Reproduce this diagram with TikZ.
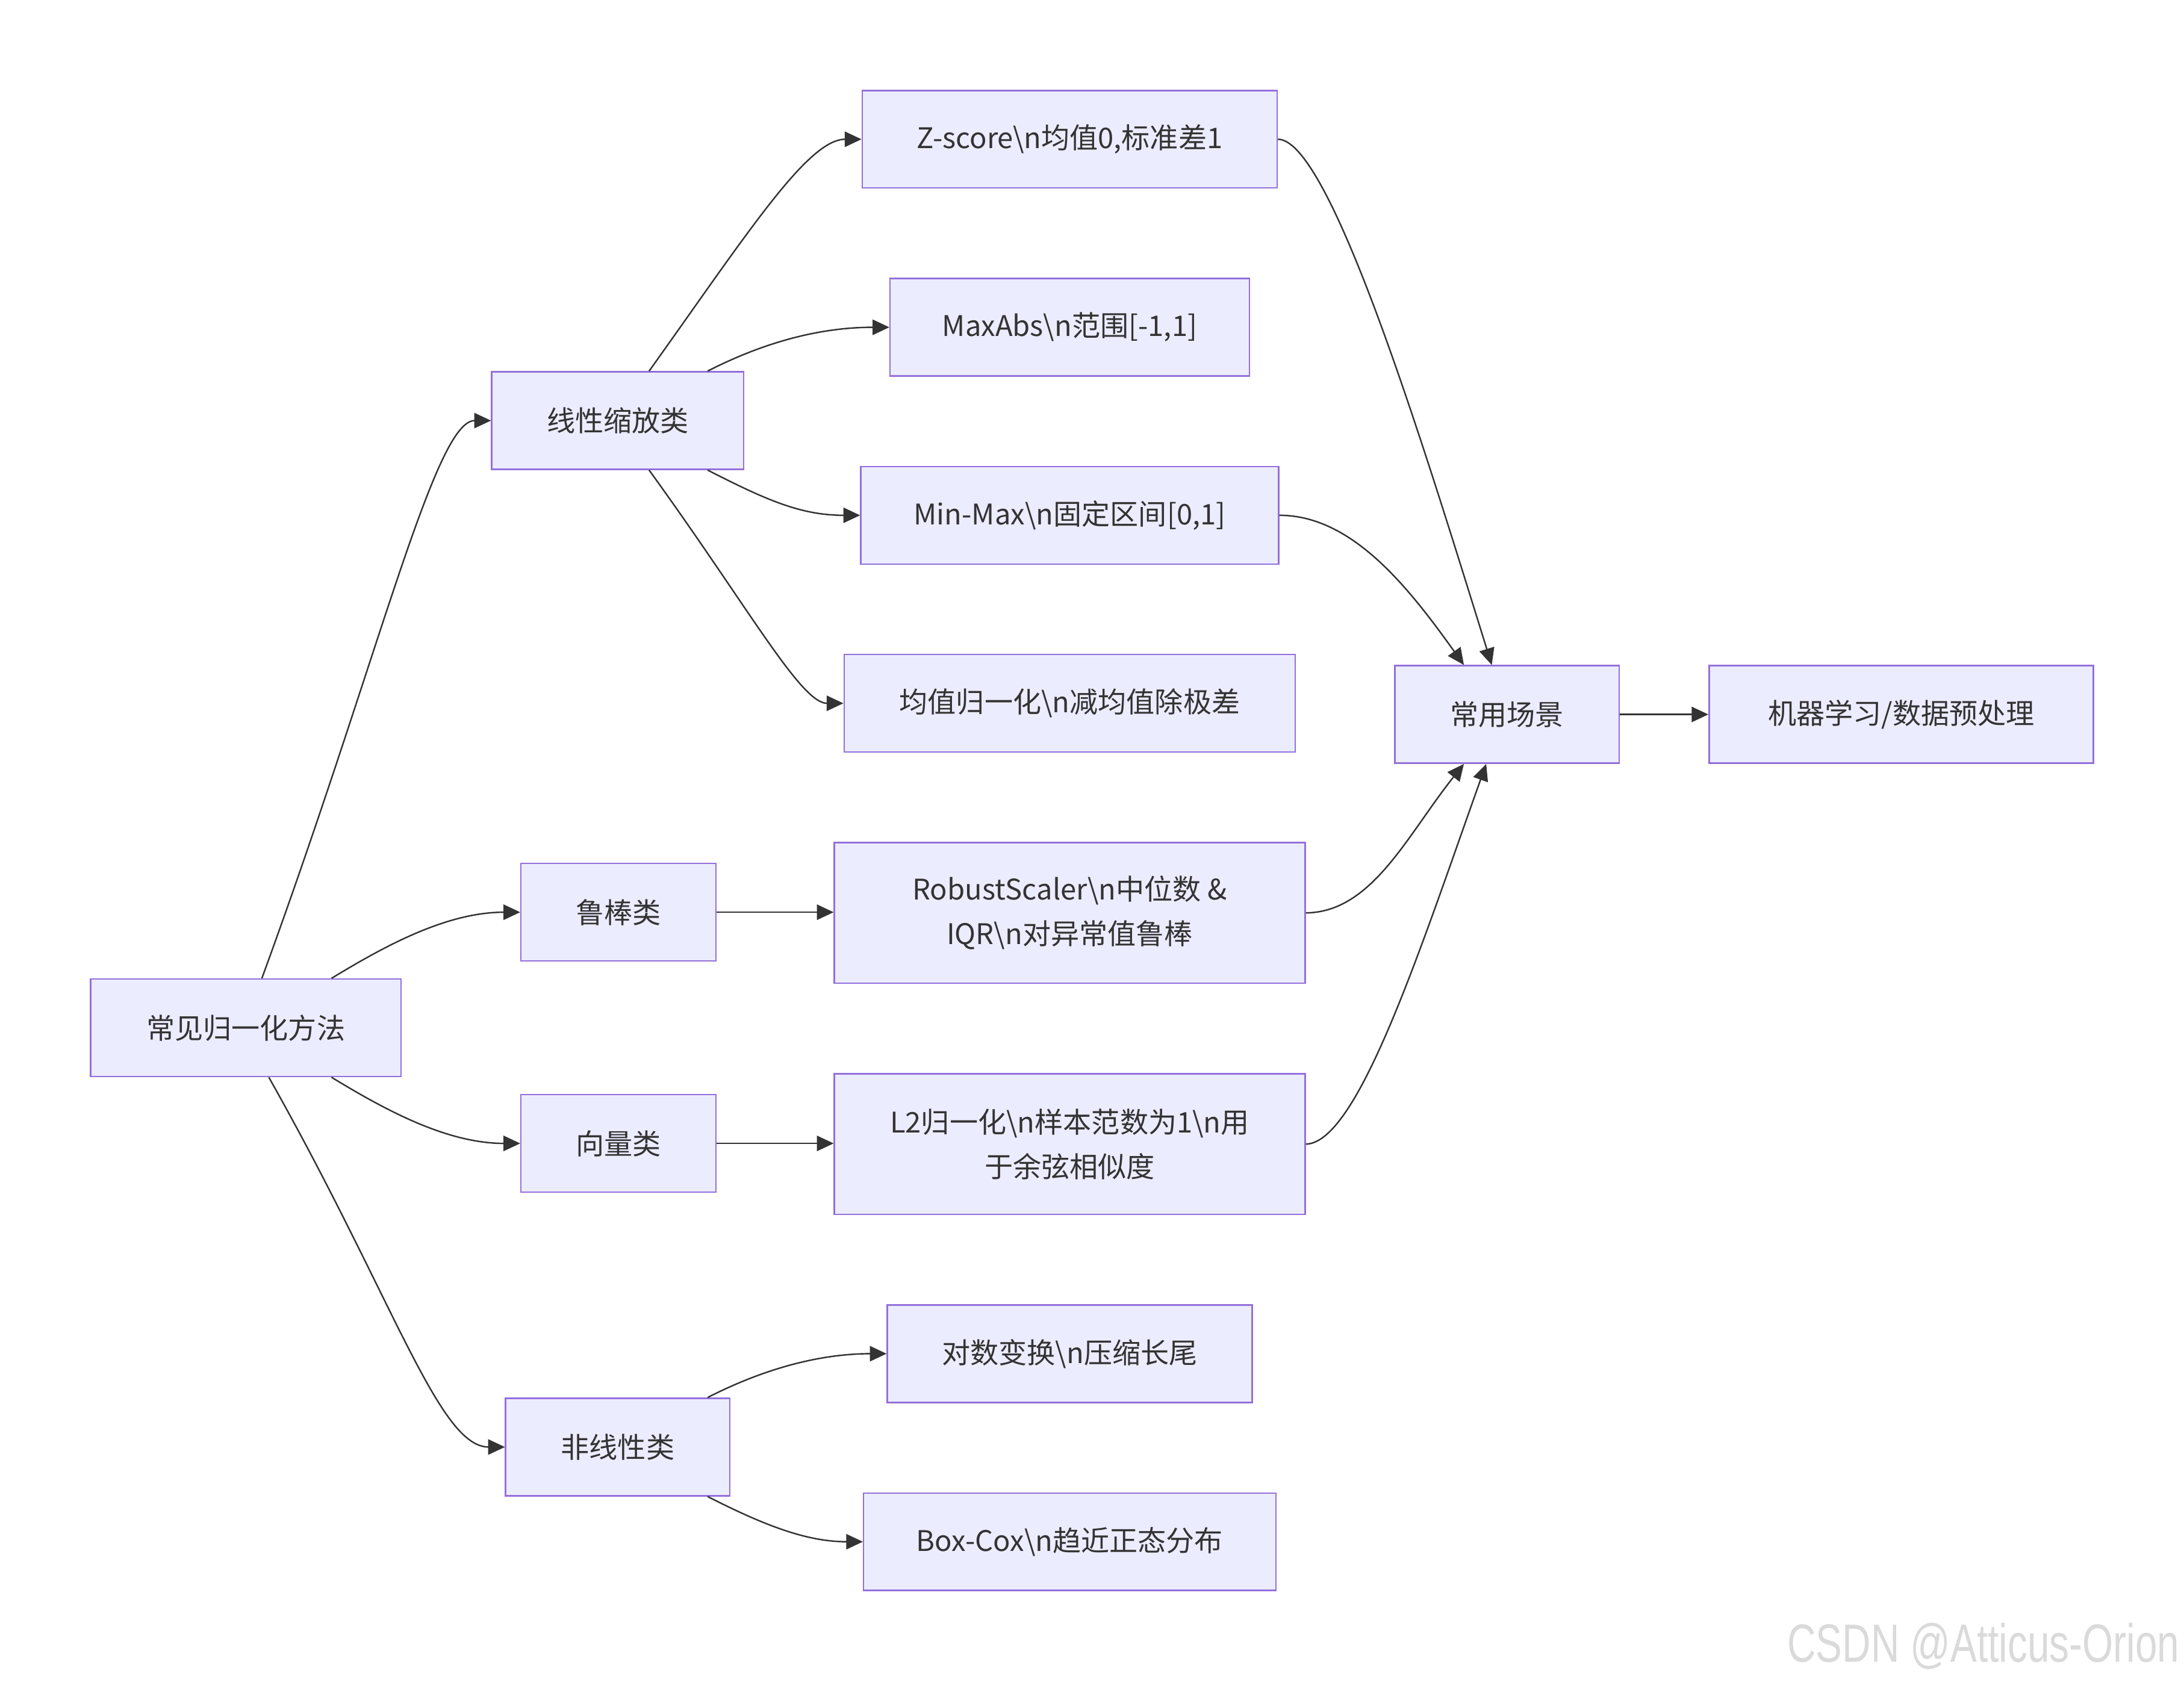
\documentclass[tikz,border=0pt]{standalone}
\usepackage{fontspec}
\setmainfont{Noto Sans CJK SC}
\newfontfamily\markfont{Liberation Sans}
\usetikzlibrary{arrows.meta,calc}

\definecolor{norm_fill}{HTML}{ECECFF}
\definecolor{norm_line}{HTML}{9370DB}
\definecolor{norm_edge}{HTML}{333333}
\definecolor{norm_mark}{HTML}{DADADA}

\begin{document}
\begin{tikzpicture}[x=0.02cm, y=-0.02cm,
    box/.style={rectangle, draw=norm_line, fill=norm_fill, line width=0.6pt,
      text=norm_edge, align=center, minimum height=1.4cm,
      font=\fontsize{11.6pt}{18.2pt}\selectfont},
    link/.style={draw=norm_edge, line width=0.6pt,
      -{Triangle[length=2.4mm, width=2.2mm]}}]
    \useasboundingbox (0,0) rectangle (1568,1206.6);

    \node[box, minimum width=4.46cm] (root) at (176.5,738) {常见归一化方法};

    \node[box, minimum width=3.62cm] (lin)    at (443.5,302)  {线性缩放类};
    \node[box, minimum width=2.80cm] (rob)    at (444,655)    {鲁棒类};
    \node[box, minimum width=2.80cm] (vec)    at (444,821)    {向量类};
    \node[box, minimum width=3.22cm] (nonlin) at (443.5,1039) {非线性类};

    \node[box, minimum width=5.96cm] (zs)     at (768,100)
      {Z-score\textbackslash n均值0,标准差1};
    \node[box, minimum width=5.16cm] (maxabs) at (768,235)
      {MaxAbs\textbackslash n范围[-1,1]};
    \node[box, minimum width=6.00cm] (minmax) at (768,370)
      {Min-Max\textbackslash n固定区间[0,1]};
    \node[box, minimum width=6.48cm] (mean)   at (768,505)
      {均值归一化\textbackslash n减均值除极差};
    \node[box, minimum width=6.76cm, minimum height=2.02cm] (robust) at (768,655.5)
      {RobustScaler\textbackslash n中位数 \&\\IQR\textbackslash n对异常值鲁棒};
    \node[box, minimum width=6.76cm, minimum height=2.02cm] (ltwo)   at (768,821.5)
      {L2归一化\textbackslash n样本范数为1\textbackslash n用\\于余弦相似度};
    \node[box, minimum width=5.24cm] (logt)   at (768,972)
      {对数变换\textbackslash n压缩长尾};
    \node[box, minimum width=5.92cm] (boxcox) at (768,1107)
      {Box-Cox\textbackslash n趋近正态分布};

    \node[box, minimum width=3.22cm] (use) at (1082,513) {常用场景};
    \node[box, minimum width=5.52cm] (ml)  at (1365,513) {机器学习/数据预处理};

    % root to the four groups
    \draw[link] ($(root.north)+(11.5,0)$) .. controls (272,473) and (312,302) .. (lin.west);
    \draw[link] ($(root.north)+(61.5,0)$) .. controls (275,680) and (320,655) .. (rob.west);
    \draw[link] ($(root.south)+(61.5,0)$) .. controls (275,796) and (320,821) .. (vec.west);
    \draw[link] ($(root.south)+(16.5,0)$) .. controls (283,933) and (315,1039) .. (nonlin.west);

    % groups to methods
    \draw[link] ($(lin.north)+(22.5,0)$) .. controls (537,167) and (580,100) .. (zs.west);
    \draw[link] ($(lin.north)+(64.5,0)$) .. controls (550,245) and (590,235) .. (maxabs.west);
    \draw[link] ($(lin.south)+(64.5,0)$) .. controls (550,359) and (575,370) .. (minmax.west);
    \draw[link] ($(lin.south)+(22.5,0)$) .. controls (538,437) and (575,505) .. (mean.west);
    \draw[link] (rob.east) -- (rob.east -| robust.west);
    \draw[link] (vec.east) -- (vec.east -| ltwo.west);
    \draw[link] ($(nonlin.north)+(64.5,0)$) .. controls (550,982) and (590,972) .. (logt.west);
    \draw[link] ($(nonlin.south)+(64.5,0)$) .. controls (550,1096) and (580,1107) .. (boxcox.west);

    % methods to the use case
    \draw[link] (zs.east) .. controls (955,100) and (1022,320) .. ($(use.north)+(-11,0)$);
    \draw[link] (minmax.east) .. controls (970,370) and (1010,420) .. ($(use.north)+(-31,0)$);
    \draw[link] (robust.east) .. controls (985,655) and (1010,600) .. ($(use.south)+(-31,0)$);
    \draw[link] (ltwo.east) .. controls (975,821) and (1020,680) .. ($(use.south)+(-15,0)$);
    \draw[link] (use.east) -- (ml.west);

    \node[text=norm_mark, anchor=east, inner sep=0pt,
      font=\markfont\fontsize{22pt}{26pt}\selectfont]
      (mark) at (1565,1182) {\scalebox{0.735}[1]{CSDN @Atticus-Orion}};
\end{tikzpicture}
\end{document}
